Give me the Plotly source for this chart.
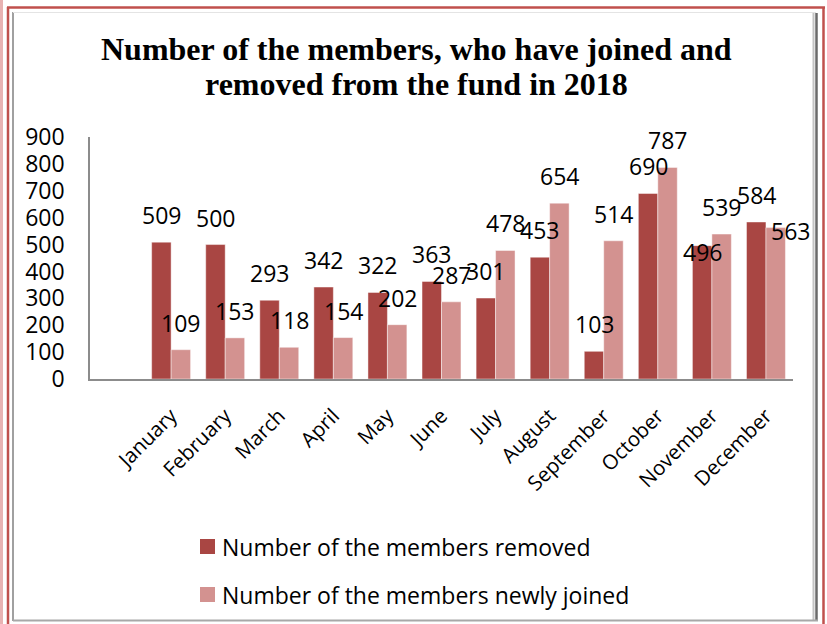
import plotly.graph_objects as go

# ---------------- data ----------------
months = ["January", "February", "March", "April", "May", "June", "July",
          "August", "September", "October", "November", "December"]
removed = [509, 500, 293, 342, 322, 363, 301, 453, 103, 690, 496, 584]
joined = [109, 153, 118, 154, 202, 287, 478, 654, 514, 787, 539, 563]
y_ticks = [0, 100, 200, 300, 400, 500, 600, 700, 800, 900]
series_names = ["Number of the members removed", "Number of the members newly joined"]
title_lines = ["Number of the members, who have joined and",
               "removed from the fund in 2018"]

# ---------------- style ----------------
W, H = 827, 624
ML, MR, MT, MB = 90, 34, 137, 245
PW, PH = W - ML - MR, H - MT - MB
C_REM = "#A94643"
C_JOIN = "#D39290"
FONT = "Open Sans"
BAR_W = 0.36
# manual label nudges in pixels (dx, dy) keyed by index
rem_nudge = {10: (0, -33)}
join_nudge = {11: (15, -30)}
LABEL_UP = 27


def px_x(p):
    return (p - ML) / PW


def px_y(p):
    return (H - MB - p) / PH


xs = list(range(len(months)))

fig = go.Figure()
fig.add_trace(go.Bar(x=xs, y=removed, width=BAR_W, offset=-BAR_W,
                     marker=dict(color=C_REM, line=dict(color="rgba(255,255,255,0.45)", width=1)),
                     name=series_names[0], showlegend=False))
fig.add_trace(go.Bar(x=xs, y=joined, width=BAR_W, offset=0,
                     marker=dict(color=C_JOIN, line=dict(color="rgba(255,255,255,0.45)", width=1)),
                     name=series_names[1], showlegend=False))

ann = []
for i, v in enumerate(removed):
    dx, dy = rem_nudge.get(i, (0, 0))
    ann.append(dict(x=i - BAR_W / 2, y=v, text=str(v), showarrow=False, xref="x", yref="y",
                    yanchor="middle", xanchor="center", yshift=LABEL_UP + dy, xshift=dx,
                    font=dict(family=FONT, size=23, color="black")))
for i, v in enumerate(joined):
    dx, dy = join_nudge.get(i, (0, 0))
    ann.append(dict(x=i + BAR_W / 2, y=v, text=str(v), showarrow=False, xref="x", yref="y",
                    yanchor="middle", xanchor="center", yshift=LABEL_UP + dy, xshift=dx,
                    font=dict(family=FONT, size=23, color="black")))
for line, cy in zip(title_lines, [49, 84]):
    ann.append(dict(x=px_x(416), y=px_y(cy), xref="paper", yref="paper", text="<b>" + line + "</b>",
                    showarrow=False, xanchor="center", yanchor="middle",
                    font=dict(family="Liberation Serif", size=32, color="black")))


# frame decorations (pixel positions)
def vline(px, y0, y1, color, w):
    return dict(type="line", xref="paper", yref="paper", x0=px_x(px), x1=px_x(px),
                y0=px_y(y0), y1=px_y(y1), line=dict(color=color, width=w), layer="above")


def hline(py, x0, x1, color, w):
    return dict(type="line", xref="paper", yref="paper", x0=px_x(x0), x1=px_x(x1),
                y0=px_y(py), y1=px_y(py), line=dict(color=color, width=w), layer="above")


shapes = [
    vline(1.5, 0, 624, "#E8B2B2", 3),
    vline(8, 7, 624, "#C0504D", 2.5),
    hline(7.5, 7, 825, "#C0504D", 2.5),
    vline(823.5, 7, 624, "#C0504D", 2.5),
    vline(13, 12, 621, "#A0A0A0", 2),
    hline(12.5, 13, 816, "#E4E4E4", 1),
    vline(813.5, 13, 620, "#C4C4C4", 2),
    vline(816.5, 13, 620, "#6A6A6A", 2.5),
    hline(620.5, 13, 818, "#A8A8A8", 2),
]

# legend (drawn as key squares + text so it does not resize the plot area)
for nm, col, cy in [(series_names[0], C_REM, 546.5), (series_names[1], C_JOIN, 594.5)]:
    shapes.append(dict(type="rect", xref="paper", yref="paper",
                       x0=px_x(200), x1=px_x(215), y0=px_y(cy - 7.5), y1=px_y(cy + 7.5),
                       fillcolor=col, line=dict(width=0), layer="above"))
    ann.append(dict(x=px_x(220), y=px_y(cy), xref="paper", yref="paper", text=nm,
                    showarrow=False, xanchor="left", yanchor="middle",
                    font=dict(family=FONT, size=23, color="black")))

fig.update_layout(
    width=W, height=H, autosize=False,
    margin=dict(l=ML, r=MR, t=MT, b=MB, pad=0),
    paper_bgcolor="white", plot_bgcolor="white",
    barmode="overlay",
    annotations=ann, shapes=shapes,
    showlegend=False,
    xaxis=dict(range=[-1.5, len(months) - 0.5], tickmode="array", tickvals=xs, ticktext=months,
               tickangle=-45, showline=True, linecolor="#8C8C8C", linewidth=1.5,
               showgrid=False, zeroline=False, ticks="", ticklabelstandoff=15,
               tickfont=dict(family=FONT, size=20.5, color="black"), fixedrange=True,
               automargin=False),
    yaxis=dict(range=[0, 900], tickmode="array", tickvals=y_ticks, showline=True,
               linecolor="#8C8C8C", linewidth=1.5, showgrid=False, zeroline=False, ticks="",
               ticklabelstandoff=19, tickfont=dict(family=FONT, size=23, color="black"),
               fixedrange=True, automargin=False),
)

fig.write_html("out.html", config={"displayModeBar": False},
               post_script="document.body.style.margin='0';document.body.style.overflow='hidden';")
